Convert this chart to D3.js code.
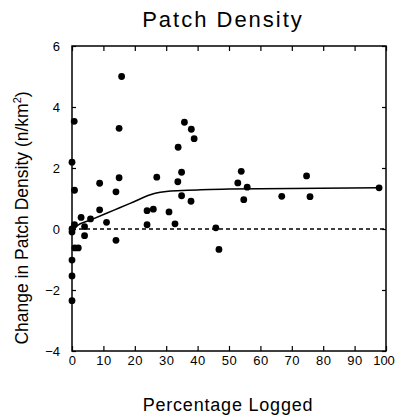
<!DOCTYPE html>
<html>
<head>
<meta charset="utf-8">
<script src="https://cdn.jsdelivr.net/npm/d3@7"></script>
<style>
  body { margin: 0; background: #fff; }
  text { font-family: "Liberation Sans", Arial, sans-serif; fill: #000; }
</style>
</head>
<body>
<div id="chart"></div>
<script>
// percentage logged vs change in patch density
const pctLogged = [0.7, 15.8, 15.0, 35.8, 38.0, 38.9, 33.8, 0, 15.0, 27.0, 34.9, 53.9, 74.7,
  0.8, 8.8, 33.7, 14.0, 34.9, 37.9, 8.8, 23.9, 25.9, 30.9, 2.9, 5.9, 11.0, 0.8, 4.0,
  23.9, 32.8, 0, 0, 4.0, 14.0, 0.9, 2.0, 0, 0, 0, 52.8, 55.8, 54.7, 66.8, 75.8, 45.8, 46.8, 97.8];
const densityChange = [3.53, 5.0, 3.30, 3.50, 3.27, 2.96, 2.68, 2.19, 1.68, 1.70, 1.86, 1.89, 1.74,
  1.27, 1.50, 1.55, 1.22, 1.09, 0.91, 0.63, 0.60, 0.65, 0.56, 0.38, 0.33, 0.22, 0.14, 0.08,
  0.14, 0.17, 0.0, -0.1, -0.22, -0.37, -0.62, -0.62, -1.02, -1.54, -2.35, 1.51, 1.37, 0.96, 1.07, 1.06, 0.04, -0.67, 1.35];

// fitted curve
const fitX = [0, 1.5, 6, 13.4, 18.5, 26.5, 30, 35, 41, 50, 70, 97.8];
const fitY = [-0.08, 0.1, 0.3, 0.62, 0.84, 1.17, 1.23, 1.26, 1.29, 1.31, 1.33, 1.35];

const xTicks = [0, 10, 20, 30, 40, 50, 60, 70, 80, 90, 100];
const yTicks = [-4, -2, 0, 2, 4, 6];

const W = 396, H = 418;
const margin = { top: 46, right: 10, bottom: 67, left: 72 };

const svg = d3.select("#chart").append("svg")
  .attr("width", W).attr("height", H);

const x = d3.scaleLinear().domain([0, 100]).range([margin.left, 386]);
const y = d3.scaleLinear().domain([-4, 6]).range([351, margin.top]);

// frame
svg.append("rect")
  .attr("x", x(0)).attr("y", y(6))
  .attr("width", x(100) - x(0)).attr("height", y(-4) - y(6))
  .attr("fill", "none").attr("stroke", "#000").attr("stroke-width", 1.5);

// inward ticks on all sides
const tickLen = 5;
svg.append("g").attr("transform", `translate(0,${y(-4)})`)
  .call(d3.axisBottom(x).tickValues(xTicks).tickSizeInner(-tickLen).tickSizeOuter(0).tickPadding(5).tickFormat(d3.format("d")))
  .call(g => g.select(".domain").remove())
  .call(g => g.selectAll("text").attr("font-size", 13).attr("letter-spacing", 0.5).attr("font-family", "Liberation Sans, Arial, sans-serif"))
  // last label sits right at the edge of the window, nudge it in
  .call(g => g.selectAll("text").filter(d => d === 100).attr("letter-spacing", 0).attr("dx", -2.5));

svg.append("g").attr("transform", `translate(0,${y(6)})`)
  .call(d3.axisTop(x).tickValues(xTicks).tickSizeInner(-tickLen).tickSizeOuter(0).tickFormat(""))
  .call(g => g.select(".domain").remove());

svg.append("g").attr("transform", `translate(${x(0)},0)`)
  .call(d3.axisLeft(y).tickValues(yTicks).tickSizeInner(-4).tickSizeOuter(0).tickPadding(12)
    .tickFormat(d => d < 0 ? "\u2212" + Math.abs(d) : d))
  .call(g => g.select(".domain").remove())
  .call(g => g.selectAll("text").attr("font-size", 13).attr("font-family", "Liberation Sans, Arial, sans-serif"));

svg.append("g").attr("transform", `translate(${x(100)},0)`)
  .call(d3.axisRight(y).tickValues(yTicks).tickSizeInner(-4).tickSizeOuter(0).tickFormat(""))
  .call(g => g.select(".domain").remove());

svg.selectAll(".tick line").attr("stroke", "#000").attr("stroke-width", 1.2);

// zero reference line
svg.append("line")
  .attr("x1", x(0)).attr("x2", x(100))
  .attr("y1", y(0)).attr("y2", y(0))
  .attr("stroke", "#000").attr("stroke-width", 1.3)
  .attr("stroke-dasharray", "4,3");

// fitted line
const fit = fitX.map((d, i) => [d, fitY[i]]);
svg.append("path")
  .datum(fit)
  .attr("d", d3.line().x(d => x(d[0])).y(d => y(d[1])).curve(d3.curveMonotoneX))
  .attr("fill", "none").attr("stroke", "#000").attr("stroke-width", 1.5);

// points
const pts = pctLogged.map((d, i) => ({ x: d, y: densityChange[i] }));
svg.append("g").selectAll("circle")
  .data(pts).enter().append("circle")
  .attr("cx", d => x(d.x)).attr("cy", d => y(d.y))
  .attr("r", 3.4).attr("fill", "#000");

// title + labels
svg.append("text")
  .attr("x", 223).attr("y", 27)
  .attr("text-anchor", "middle")
  .attr("font-size", 22).attr("letter-spacing", 2)
  .text("Patch Density");

svg.append("text")
  .attr("x", 228).attr("y", 411)
  .attr("text-anchor", "middle")
  .attr("font-size", 18).attr("letter-spacing", 0.8)
  .text("Percentage Logged");

const yl = svg.append("text")
  .attr("transform", "translate(28,218) rotate(-90)")
  .attr("text-anchor", "middle")
  .attr("font-size", 17.5);
yl.append("tspan").text("Change in Patch Density (n/km");
yl.append("tspan").attr("font-size", 11).attr("dy", -7).text("2");
yl.append("tspan").attr("dy", 7).text(")");
</script>
</body>
</html>
